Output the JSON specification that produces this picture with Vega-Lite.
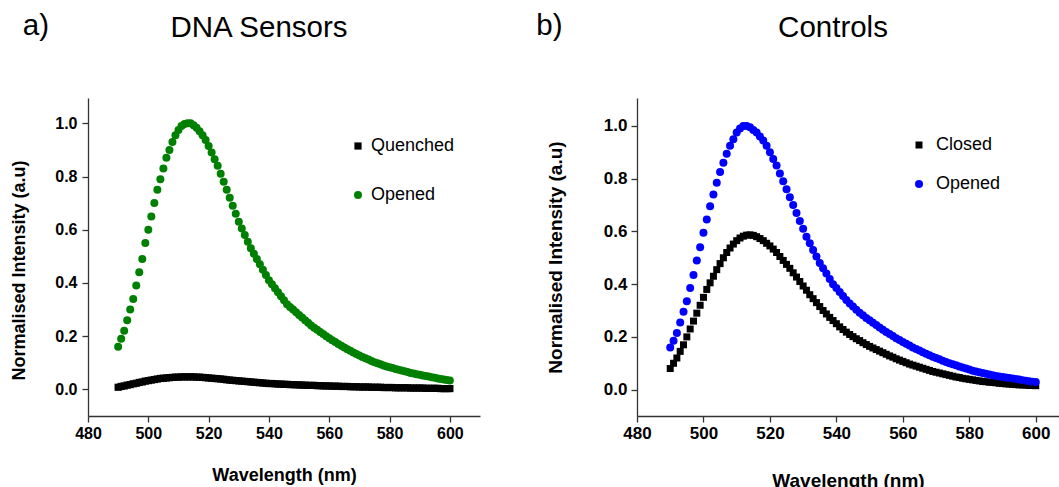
{
"$schema": "https://vega.github.io/schema/vega-lite/v6.json",
"padding": {"left": 10, "top": 11, "right": 0, "bottom": 0},
"background": "white",
"config": {
  "view": {"stroke": null},
  "font": "Liberation Sans",
  "title": {"color": "black", "font": "Liberation Sans", "fontWeight": "normal"},
  "axis": {"domainColor": "#333333", "domainWidth": 1.3, "tickColor": "#333333", "tickWidth": 1.3, "tickSize": 6, "grid": false, "labelFlush": false, "labelFont": "Liberation Sans", "labelFontWeight": "bold", "labelColor": "black", "titleFont": "Liberation Sans", "titleFontWeight": "bold", "titleColor": "black"},
  "legend": {"labelFont": "Liberation Sans", "labelColor": "black", "symbolStrokeWidth": 0, "padding": 0}
},
"datasets": {
"a": [
{"w":490,"Quenched":0.008,"Opened":0.16},{"w":491,"Quenched":0.011,"Opened":0.19},{"w":492,"Quenched":0.013,"Opened":0.22},{"w":493,"Quenched":0.016,"Opened":0.26},{"w":494,"Quenched":0.018,"Opened":0.30},{"w":495,"Quenched":0.021,"Opened":0.34},{"w":496,"Quenched":0.023,"Opened":0.39},{"w":497,"Quenched":0.026,"Opened":0.44},{"w":498,"Quenched":0.028,"Opened":0.49},{"w":499,"Quenched":0.031,"Opened":0.55},
{"w":500,"Quenched":0.033,"Opened":0.60},{"w":501,"Quenched":0.035,"Opened":0.65},{"w":502,"Quenched":0.037,"Opened":0.70},{"w":503,"Quenched":0.039,"Opened":0.75},{"w":504,"Quenched":0.041,"Opened":0.79},{"w":505,"Quenched":0.042,"Opened":0.83},{"w":506,"Quenched":0.043,"Opened":0.87},{"w":507,"Quenched":0.044,"Opened":0.90},{"w":508,"Quenched":0.045,"Opened":0.93},{"w":509,"Quenched":0.046,"Opened":0.955},
{"w":510,"Quenched":0.046,"Opened":0.975},{"w":511,"Quenched":0.047,"Opened":0.99},{"w":512,"Quenched":0.047,"Opened":0.997},{"w":513,"Quenched":0.047,"Opened":1.0},{"w":514,"Quenched":0.047,"Opened":1.0},{"w":515,"Quenched":0.047,"Opened":0.993},{"w":516,"Quenched":0.046,"Opened":0.983},{"w":517,"Quenched":0.046,"Opened":0.97},{"w":518,"Quenched":0.045,"Opened":0.955},{"w":519,"Quenched":0.044,"Opened":0.937},
{"w":520,"Quenched":0.043,"Opened":0.915},{"w":521,"Quenched":0.042,"Opened":0.89},{"w":522,"Quenched":0.041,"Opened":0.865},{"w":523,"Quenched":0.040,"Opened":0.84},{"w":524,"Quenched":0.039,"Opened":0.81},{"w":525,"Quenched":0.038,"Opened":0.78},{"w":526,"Quenched":0.036,"Opened":0.75},{"w":527,"Quenched":0.035,"Opened":0.72},{"w":528,"Quenched":0.034,"Opened":0.69},{"w":529,"Quenched":0.033,"Opened":0.66},
{"w":530,"Quenched":0.032,"Opened":0.63},{"w":531,"Quenched":0.031,"Opened":0.605},{"w":532,"Quenched":0.030,"Opened":0.58},{"w":533,"Quenched":0.029,"Opened":0.555},{"w":534,"Quenched":0.028,"Opened":0.53},{"w":535,"Quenched":0.027,"Opened":0.51},{"w":536,"Quenched":0.026,"Opened":0.49},{"w":537,"Quenched":0.025,"Opened":0.47},{"w":538,"Quenched":0.024,"Opened":0.45},{"w":539,"Quenched":0.023,"Opened":0.43},
{"w":540,"Quenched":0.022,"Opened":0.41},{"w":541,"Quenched":0.022,"Opened":0.395},{"w":542,"Quenched":0.021,"Opened":0.38},{"w":543,"Quenched":0.020,"Opened":0.365},{"w":544,"Quenched":0.020,"Opened":0.35},{"w":545,"Quenched":0.019,"Opened":0.335},{"w":546,"Quenched":0.019,"Opened":0.32},{"w":547,"Quenched":0.018,"Opened":0.31},{"w":548,"Quenched":0.018,"Opened":0.30},{"w":549,"Quenched":0.017,"Opened":0.29},
{"w":550,"Quenched":0.017,"Opened":0.28},{"w":551,"Quenched":0.016,"Opened":0.27},{"w":552,"Quenched":0.016,"Opened":0.26},{"w":553,"Quenched":0.015,"Opened":0.25},{"w":554,"Quenched":0.015,"Opened":0.24},{"w":555,"Quenched":0.015,"Opened":0.232},{"w":556,"Quenched":0.014,"Opened":0.224},{"w":557,"Quenched":0.014,"Opened":0.216},{"w":558,"Quenched":0.013,"Opened":0.208},{"w":559,"Quenched":0.013,"Opened":0.200},
{"w":560,"Quenched":0.013,"Opened":0.192},{"w":561,"Quenched":0.012,"Opened":0.185},{"w":562,"Quenched":0.012,"Opened":0.178},{"w":563,"Quenched":0.012,"Opened":0.171},{"w":564,"Quenched":0.011,"Opened":0.164},{"w":565,"Quenched":0.011,"Opened":0.157},{"w":566,"Quenched":0.011,"Opened":0.151},{"w":567,"Quenched":0.010,"Opened":0.145},{"w":568,"Quenched":0.010,"Opened":0.139},{"w":569,"Quenched":0.010,"Opened":0.133},
{"w":570,"Quenched":0.009,"Opened":0.127},{"w":571,"Quenched":0.009,"Opened":0.122},{"w":572,"Quenched":0.009,"Opened":0.117},{"w":573,"Quenched":0.009,"Opened":0.112},{"w":574,"Quenched":0.008,"Opened":0.107},{"w":575,"Quenched":0.008,"Opened":0.102},{"w":576,"Quenched":0.008,"Opened":0.098},{"w":577,"Quenched":0.008,"Opened":0.094},{"w":578,"Quenched":0.007,"Opened":0.090},{"w":579,"Quenched":0.007,"Opened":0.086},
{"w":580,"Quenched":0.007,"Opened":0.083},{"w":581,"Quenched":0.007,"Opened":0.080},{"w":582,"Quenched":0.006,"Opened":0.077},{"w":583,"Quenched":0.006,"Opened":0.074},{"w":584,"Quenched":0.006,"Opened":0.071},{"w":585,"Quenched":0.006,"Opened":0.068},{"w":586,"Quenched":0.006,"Opened":0.065},{"w":587,"Quenched":0.005,"Opened":0.062},{"w":588,"Quenched":0.005,"Opened":0.060},{"w":589,"Quenched":0.005,"Opened":0.057},
{"w":590,"Quenched":0.005,"Opened":0.055},{"w":591,"Quenched":0.005,"Opened":0.052},{"w":592,"Quenched":0.004,"Opened":0.050},{"w":593,"Quenched":0.004,"Opened":0.048},{"w":594,"Quenched":0.004,"Opened":0.046},{"w":595,"Quenched":0.004,"Opened":0.044},{"w":596,"Quenched":0.004,"Opened":0.041},{"w":597,"Quenched":0.003,"Opened":0.039},{"w":598,"Quenched":0.003,"Opened":0.037},{"w":599,"Quenched":0.003,"Opened":0.035},
{"w":600,"Quenched":0.003,"Opened":0.033}
],
"b": [
{"w":490,"Closed":0.08,"Opened":0.16},{"w":491,"Closed":0.10,"Opened":0.185},{"w":492,"Closed":0.12,"Opened":0.215},{"w":493,"Closed":0.145,"Opened":0.255},{"w":494,"Closed":0.17,"Opened":0.295},{"w":495,"Closed":0.20,"Opened":0.335},{"w":496,"Closed":0.23,"Opened":0.385},{"w":497,"Closed":0.26,"Opened":0.435},{"w":498,"Closed":0.29,"Opened":0.49},{"w":499,"Closed":0.32,"Opened":0.54},
{"w":500,"Closed":0.35,"Opened":0.595},{"w":501,"Closed":0.38,"Opened":0.645},{"w":502,"Closed":0.405,"Opened":0.695},{"w":503,"Closed":0.43,"Opened":0.74},{"w":504,"Closed":0.455,"Opened":0.785},{"w":505,"Closed":0.478,"Opened":0.825},{"w":506,"Closed":0.50,"Opened":0.86},{"w":507,"Closed":0.52,"Opened":0.895},{"w":508,"Closed":0.537,"Opened":0.925},{"w":509,"Closed":0.552,"Opened":0.95},
{"w":510,"Closed":0.565,"Opened":0.975},{"w":511,"Closed":0.575,"Opened":0.99},{"w":512,"Closed":0.582,"Opened":1.0},{"w":513,"Closed":0.586,"Opened":1.0},{"w":514,"Closed":0.587,"Opened":0.995},{"w":515,"Closed":0.585,"Opened":0.985},{"w":516,"Closed":0.58,"Opened":0.975},{"w":517,"Closed":0.573,"Opened":0.96},{"w":518,"Closed":0.565,"Opened":0.945},{"w":519,"Closed":0.555,"Opened":0.925},
{"w":520,"Closed":0.545,"Opened":0.90},{"w":521,"Closed":0.533,"Opened":0.875},{"w":522,"Closed":0.52,"Opened":0.85},{"w":523,"Closed":0.505,"Opened":0.82},{"w":524,"Closed":0.49,"Opened":0.79},{"w":525,"Closed":0.475,"Opened":0.76},{"w":526,"Closed":0.46,"Opened":0.73},{"w":527,"Closed":0.443,"Opened":0.70},{"w":528,"Closed":0.427,"Opened":0.67},{"w":529,"Closed":0.41,"Opened":0.64},
{"w":530,"Closed":0.393,"Opened":0.61},{"w":531,"Closed":0.377,"Opened":0.58},{"w":532,"Closed":0.36,"Opened":0.555},{"w":533,"Closed":0.345,"Opened":0.53},{"w":534,"Closed":0.33,"Opened":0.505},{"w":535,"Closed":0.315,"Opened":0.48},{"w":536,"Closed":0.30,"Opened":0.46},{"w":537,"Closed":0.287,"Opened":0.44},{"w":538,"Closed":0.274,"Opened":0.42},{"w":539,"Closed":0.262,"Opened":0.40},
{"w":540,"Closed":0.25,"Opened":0.385},{"w":541,"Closed":0.238,"Opened":0.37},{"w":542,"Closed":0.228,"Opened":0.355},{"w":543,"Closed":0.218,"Opened":0.34},{"w":544,"Closed":0.209,"Opened":0.327},{"w":545,"Closed":0.201,"Opened":0.315},{"w":546,"Closed":0.193,"Opened":0.303},{"w":547,"Closed":0.186,"Opened":0.292},{"w":548,"Closed":0.178,"Opened":0.282},{"w":549,"Closed":0.171,"Opened":0.272},
{"w":550,"Closed":0.164,"Opened":0.263},{"w":551,"Closed":0.158,"Opened":0.254},{"w":552,"Closed":0.152,"Opened":0.245},{"w":553,"Closed":0.146,"Opened":0.236},{"w":554,"Closed":0.140,"Opened":0.227},{"w":555,"Closed":0.134,"Opened":0.219},{"w":556,"Closed":0.128,"Opened":0.211},{"w":557,"Closed":0.123,"Opened":0.203},{"w":558,"Closed":0.117,"Opened":0.195},{"w":559,"Closed":0.112,"Opened":0.188},
{"w":560,"Closed":0.107,"Opened":0.181},{"w":561,"Closed":0.102,"Opened":0.174},{"w":562,"Closed":0.097,"Opened":0.167},{"w":563,"Closed":0.093,"Opened":0.160},{"w":564,"Closed":0.089,"Opened":0.154},{"w":565,"Closed":0.085,"Opened":0.148},{"w":566,"Closed":0.081,"Opened":0.142},{"w":567,"Closed":0.077,"Opened":0.136},{"w":568,"Closed":0.073,"Opened":0.130},{"w":569,"Closed":0.069,"Opened":0.125},
{"w":570,"Closed":0.066,"Opened":0.120},{"w":571,"Closed":0.063,"Opened":0.115},{"w":572,"Closed":0.060,"Opened":0.110},{"w":573,"Closed":0.057,"Opened":0.105},{"w":574,"Closed":0.054,"Opened":0.100},{"w":575,"Closed":0.051,"Opened":0.096},{"w":576,"Closed":0.048,"Opened":0.092},{"w":577,"Closed":0.046,"Opened":0.088},{"w":578,"Closed":0.043,"Opened":0.084},{"w":579,"Closed":0.041,"Opened":0.080},
{"w":580,"Closed":0.039,"Opened":0.076},{"w":581,"Closed":0.037,"Opened":0.072},{"w":582,"Closed":0.035,"Opened":0.069},{"w":583,"Closed":0.033,"Opened":0.066},{"w":584,"Closed":0.031,"Opened":0.063},{"w":585,"Closed":0.030,"Opened":0.060},{"w":586,"Closed":0.028,"Opened":0.057},{"w":587,"Closed":0.027,"Opened":0.055},{"w":588,"Closed":0.026,"Opened":0.052},{"w":589,"Closed":0.024,"Opened":0.050},
{"w":590,"Closed":0.023,"Opened":0.048},{"w":591,"Closed":0.022,"Opened":0.046},{"w":592,"Closed":0.021,"Opened":0.044},{"w":593,"Closed":0.020,"Opened":0.042},{"w":594,"Closed":0.019,"Opened":0.040},{"w":595,"Closed":0.018,"Opened":0.038},{"w":596,"Closed":0.018,"Opened":0.036},{"w":597,"Closed":0.017,"Opened":0.034},{"w":598,"Closed":0.016,"Opened":0.032},{"w":599,"Closed":0.016,"Opened":0.030},
{"w":600,"Closed":0.015,"Opened":0.029}
]
},
"spacing": 56,
"resolve": {"scale": {"color": "independent", "shape": "independent", "size": "independent"}},
"hconcat": [
{
  "title": {"text": "a)", "anchor": "start", "frame": "bounds", "fontSize": 29.5, "baseline": "alphabetic", "offset": 0, "dx": 12, "dy": 52},
  "resolve": {"scale": {"color": "independent", "shape": "independent", "size": "independent"}},
  "vconcat": [
  {
    "title": {"text": "DNA Sensors", "anchor": "middle", "frame": "group", "fontSize": 29.5, "baseline": "alphabetic", "offset": 32, "dx": -25},
    "width": 392, "height": 318,
    "data": {"name": "a"},
    "transform": [{"fold": ["Quenched", "Opened"], "as": ["series", "v"]}],
    "mark": {"type": "point", "filled": true, "opacity": 1, "strokeWidth": 0},
    "encoding": {
      "x": {"field": "w", "type": "quantitative", "scale": {"domain": [480, 610], "nice": false, "zero": false},
            "axis": {"values": [480, 500, 520, 540, 560, 580, 600], "format": "d", "title": "Wavelength (nm)", "labelFontSize": 16, "titleFontSize": 18, "labelPadding": 3, "titlePadding": 25, "labelFlush": false}},
      "y": {"field": "v", "type": "quantitative", "scale": {"domain": [-0.1, 1.095], "nice": false, "zero": false},
            "axis": {"values": [0, 0.2, 0.4, 0.6, 0.8, 1.0], "format": ".1f", "title": "Normalised Intensity (a.u)", "labelFontSize": 16, "titleFontSize": 18, "labelPadding": 5, "titlePadding": 26, "titleY": 172}},
      "color": {"field": "series", "type": "nominal", "scale": {"domain": ["Quenched", "Opened"], "range": ["#000000", "#008000"]},
                "legend": {"title": null, "orient": "none", "legendX": 261, "legendY": 39, "labelFontSize": 18, "symbolSize": 49, "labelOffset": 4, "rowPadding": 31}},
      "shape": {"field": "series", "type": "nominal", "scale": {"domain": ["Quenched", "Opened"], "range": ["square", "circle"]}},
      "size": {"field": "series", "type": "ordinal", "scale": {"domain": ["Quenched", "Opened"], "range": [52, 64]}, "legend": null}
    }
  }]
},
{
  "title": {"text": "b)", "anchor": "start", "frame": "bounds", "fontSize": 29.5, "baseline": "alphabetic", "offset": 0, "dx": -10, "dy": 52},
  "resolve": {"scale": {"color": "independent", "shape": "independent", "size": "independent"}},
  "vconcat": [
  {
    "title": {"text": "Controls", "anchor": "middle", "frame": "group", "fontSize": 29.5, "baseline": "alphabetic", "offset": 32, "dx": -15},
    "width": 422, "height": 318,
    "data": {"name": "b"},
    "transform": [{"fold": ["Closed", "Opened"], "as": ["series", "v"]}],
    "mark": {"type": "point", "filled": true, "opacity": 1, "strokeWidth": 0},
    "encoding": {
      "x": {"field": "w", "type": "quantitative", "scale": {"domain": [480, 607], "nice": false, "zero": false},
            "axis": {"values": [480, 500, 520, 540, 560, 580, 600], "format": "d", "title": "Wavelength (nm)", "labelFontSize": 17, "titleFontSize": 19, "labelPadding": 3, "titlePadding": 30, "labelFlush": false}},
      "y": {"field": "v", "type": "quantitative", "scale": {"domain": [-0.1, 1.106], "nice": false, "zero": false},
            "axis": {"values": [0, 0.2, 0.4, 0.6, 0.8, 1.0], "format": ".1f", "title": "Normalised Intensity (a.u)", "labelFontSize": 17, "titleFontSize": 19, "labelPadding": 4, "titlePadding": 38}},
      "color": {"field": "series", "type": "nominal", "scale": {"domain": ["Closed", "Opened"], "range": ["#000000", "#0000ff"]},
                "legend": {"title": null, "orient": "none", "legendX": 273, "legendY": 38, "labelFontSize": 18, "symbolSize": 49, "labelOffset": 8, "rowPadding": 21}},
      "shape": {"field": "series", "type": "nominal", "scale": {"domain": ["Closed", "Opened"], "range": ["square", "circle"]}},
      "size": {"field": "series", "type": "ordinal", "scale": {"domain": ["Closed", "Opened"], "range": [49, 64]}, "legend": null}
    }
  }]
}
]
}
